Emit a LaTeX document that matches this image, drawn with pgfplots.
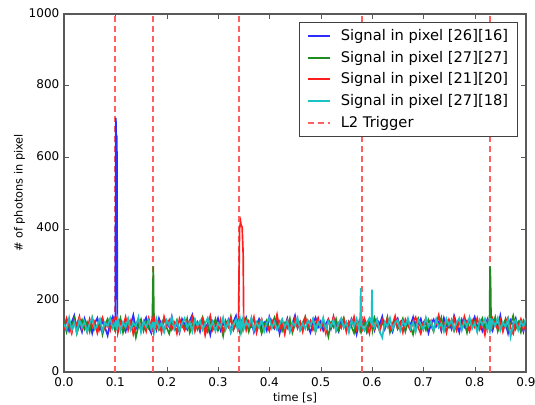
\documentclass[border=0pt]{standalone}
\usepackage{pgfplots}
\pgfplotsset{compat=1.18}
\usepackage{pgfplotstable}
\usepackage{fontspec}
\setmainfont{DejaVu Sans}

% signal of four pixels, photons per time bin
\pgfplotstableread{
x b g r c
0.000 128 141 118 133
0.005 146 112 150 120
0.010 115 137 129 152
0.015 139 125 108 117
0.020 158 149 143 138
0.025 121 108 132 109
0.030 134 131 155 146
0.035 112 146 119 124
0.040 149 120 137 141
0.045 127 139 113 112
0.050 141 113 148 136
0.055 108 152 126 150
0.060 136 126 141 119
0.065 151 117 109 131
0.070 119 144 135 147
0.075 143 105 152 115
0.080 124 133 122 139
0.085 102 148 140 127
0.090 138 121 116 151
0.095 155 136 144 122
0.100 130 116 151 138
0.101 710 131 128 125
0.102 640 145 137 144
0.103 660 122 118 117
0.104 150 138 146 132
0.105 117 127 110 148
0.110 145 150 139 114
0.115 128 110 124 140
0.120 113 134 153 125
0.125 147 143 117 149
0.130 132 119 142 118
0.135 159 138 106 137
0.140 121 97 133 128
0.145 140 129 147 153
0.150 116 147 121 111
0.155 137 115 139 142
0.160 152 140 114 126
0.165 124 123 150 144
0.170 109 136 127 119
0.172 131 150 142 134
0.174 146 295 118 127
0.175 125 170 135 140
0.176 138 130 149 116
0.180 118 144 122 149
0.185 150 118 140 123
0.190 131 133 111 138
0.195 114 151 154 112
0.200 142 124 128 145
0.205 126 107 145 130
0.210 155 139 119 152
0.215 120 126 137 121
0.220 136 145 108 141
0.225 111 114 149 115
0.230 148 137 130 136
0.235 133 122 116 150
0.240 119 149 143 124
0.245 144 110 125 139
0.250 160 131 152 113
0.255 127 146 114 147
0.260 139 119 138 129
0.265 113 135 121 143
0.270 146 153 146 118
0.275 122 128 103 135
0.280 135 112 134 151
0.285 104 140 157 122
0.290 141 125 118 140
0.295 129 148 136 114
0.300 150 116 124 137
0.305 117 134 147 126
0.310 137 101 112 152
0.315 123 143 139 119
0.320 145 127 126 142
0.325 112 155 150 111
0.330 140 118 119 134
0.335 157 137 133 147
0.338 126 124 145 121
0.340 134 142 150 138
0.342 118 129 400 126
0.344 147 115 420 143
0.345 129 146 410 117
0.347 141 121 405 132
0.349 115 138 330 149
0.350 136 130 155 120
0.355 152 147 117 141
0.360 120 113 142 128
0.365 143 136 128 152
0.370 111 150 153 116
0.375 132 122 110 139
0.380 148 139 137 124
0.385 125 108 148 146
0.390 138 131 121 113
0.395 116 145 135 137
0.400 154 119 115 150
0.405 130 134 144 122
0.410 121 152 127 140
0.415 144 126 160 118
0.420 107 141 119 133
0.425 139 115 138 148
0.430 127 136 106 125
0.435 149 123 145 143
0.440 114 149 131 112
0.445 136 110 117 138
0.450 158 133 149 129
0.455 123 144 124 151
0.460 140 118 140 117
0.465 119 138 113 136
0.470 145 154 152 121
0.475 128 120 126 145
0.480 110 132 143 130
0.485 137 147 118 149
0.490 152 112 135 114
0.495 125 139 151 139
0.500 141 124 120 126
0.505 116 143 139 152
0.510 134 129 108 119
0.515 147 99 146 141
0.520 121 137 128 127
0.525 153 125 155 146
0.530 130 148 116 115
0.535 113 117 137 137
0.540 142 134 123 150
0.545 126 151 148 123
0.550 139 121 112 139
0.555 118 140 141 111
0.560 148 127 129 144
0.565 132 109 154 128
0.570 105 145 118 149
0.575 140 131 136 120
0.577 127 119 147 140
0.578 151 136 125 235
0.579 119 148 139 145
0.580 136 124 119 130
0.585 144 138 150 116
0.590 112 113 131 138
0.595 131 147 108 150
0.599 149 128 143 135
0.600 125 140 126 230
0.601 138 118 152 138
0.605 117 151 121 124
0.610 146 130 137 147
0.615 133 116 114 113
0.620 155 139 145 96
0.625 120 125 127 140
0.630 141 153 149 126
0.635 128 111 118 151
0.640 112 136 133 119
0.645 139 144 156 137
0.650 150 120 122 145
0.655 124 132 139 115
0.660 137 149 111 142
0.665 116 114 147 128
0.670 145 141 130 150
0.675 131 127 116 121
0.680 153 105 141 139
0.685 118 138 153 112
0.690 135 150 124 146
0.695 149 122 107 133
0.700 122 135 138 118
0.705 142 117 149 152
0.710 109 146 125 127
0.715 134 131 143 141
0.720 147 113 118 116
0.725 127 143 134 148
0.730 140 128 159 124
0.735 115 152 120 136
0.740 151 119 137 113
0.745 129 137 110 149
0.750 138 124 146 131
0.755 120 145 128 144
0.760 157 115 151 120
0.765 133 134 117 138
0.770 111 148 140 150
0.775 146 121 123 117
0.780 126 139 155 142
0.785 142 110 131 128
0.790 117 146 114 153
0.795 137 129 144 121
0.800 154 142 126 137
0.805 123 116 150 111
0.810 141 135 119 146
0.815 114 150 136 132
0.820 132 123 104 149
0.825 148 138 142 118
0.828 128 145 128 140
0.829 139 150 147 125
0.830 121 295 121 137
0.831 145 255 138 150
0.832 130 140 115 122
0.835 116 127 149 143
0.840 143 153 132 129
0.845 126 114 121 151
0.850 158 137 145 116
0.855 119 125 113 139
0.860 136 148 139 126
0.865 108 118 152 148
0.870 144 133 124 98
0.875 129 157 107 134
0.880 150 121 141 145
0.885 122 139 130 117
0.890 137 112 148 140
0.895 113 144 118 127
0.900 146 130 136 150
}\signal

\definecolor{mplblue}{RGB}{45,45,255}
\definecolor{mplgreen}{RGB}{30,140,30}
\definecolor{mplred}{RGB}{255,30,30}
\definecolor{mplcyan}{RGB}{25,195,195}
\definecolor{trig}{RGB}{255,95,95}

\begin{document}
\begin{tikzpicture}
\begin{axis}[
    scale only axis,
    width=346.5pt, height=268.5pt,
    xmin=0, xmax=0.9, ymin=0, ymax=1000,
    xtick={0,0.1,...,0.9}, ytick={0,200,...,1000},
    xticklabel style={yshift=-1pt, /pgf/number format/.cd, fixed, fixed zerofill, precision=1},
    yticklabel style={yshift=1pt, /pgf/number format/.cd, fixed, set thousands separator={}},
    /pgf/number format/assume math mode=true,
    tick label style={font=\fontsize{9}{10}\selectfont},
    label style={font=\fontsize{8.5}{10}\selectfont},
    xlabel={time [s]}, ylabel={\# of photons in pixel},
    xlabel style={yshift=2.5pt},
    ylabel style={yshift=-4pt},
    tick align=inside, xtick pos=both, ytick pos=both,
    major tick length=4pt,
    axis line style={black!65, line width=0.8pt},
    tick style={black!65},
    legend cell align=left,
    legend image post style={line width=1.6pt},
    legend style={at={(1,1)}, xshift=-6pt, yshift=-6pt, anchor=north east,
        draw=black!75, line width=0.8pt, font=\fontsize{11}{13}\selectfont,
        row sep=2.5pt, inner xsep=5pt, inner ysep=3pt,
        /tikz/every odd column/.append style={column sep=5pt}},
    every axis plot/.append style={line width=1.25pt},
]
\coordinate (ll) at (rel axis cs:0,0);
\coordinate (ur) at (rel axis cs:1,1);
% trigger lines first, so that the signals lie over them
\addplot[trig, line width=1.4pt, dash pattern=on 4.5pt off 3pt, forget plot] coordinates {(0.100,0) (0.100,1000)};
\addplot[trig, line width=1.4pt, dash pattern=on 4.5pt off 3pt, forget plot] coordinates {(0.174,0) (0.174,1000)};
\addplot[trig, line width=1.4pt, dash pattern=on 4.5pt off 3pt, forget plot] coordinates {(0.341,0) (0.341,1000)};
\addplot[trig, line width=1.4pt, dash pattern=on 4.5pt off 3pt, forget plot] coordinates {(0.580,0) (0.580,1000)};
\addplot[trig, line width=1.4pt, dash pattern=on 4.5pt off 3pt, forget plot] coordinates {(0.830,0) (0.830,1000)};
\addplot[mplblue] table[x=x, y=b] {\signal};
\addlegendentry{Signal in pixel [26][16]}
\addplot[mplgreen] table[x=x, y=g] {\signal};
\addlegendentry{Signal in pixel [27][27]}
\addplot[mplred] table[x=x, y=r] {\signal};
\addlegendentry{Signal in pixel [21][20]}
\addplot[mplcyan] table[x=x, y=c] {\signal};
\addlegendentry{Signal in pixel [27][18]}
\addlegendimage{trig, line width=1.4pt, dash pattern=on 4.5pt off 3pt}
\addlegendentry{L2 Trigger}
\end{axis}
\pgfresetboundingbox
\path ([shift={(-48pt,-24pt)}]ll) rectangle ([shift={(6.75pt,10.5pt)}]ur);
\end{tikzpicture}
\end{document}
